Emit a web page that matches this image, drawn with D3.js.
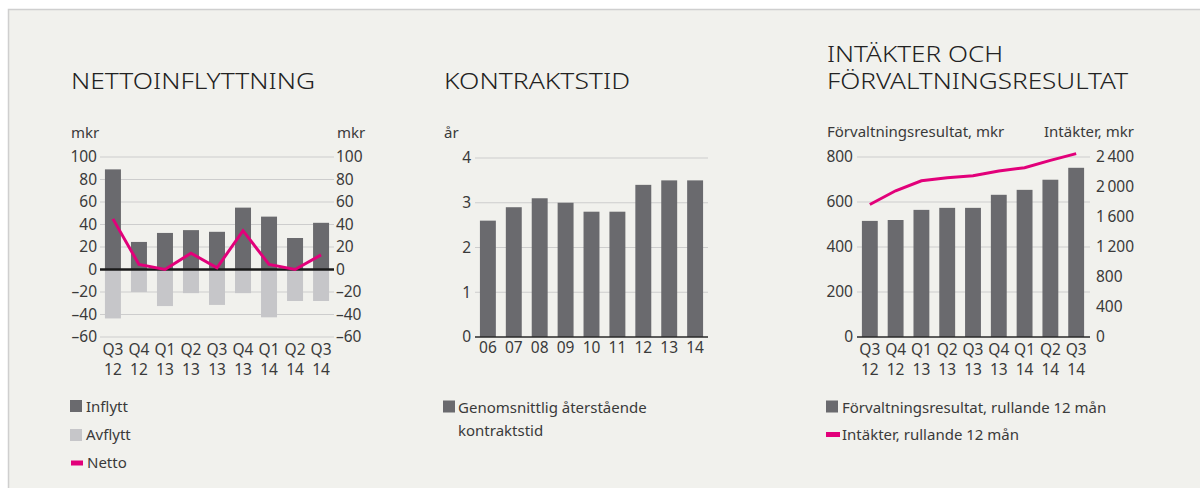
<!DOCTYPE html>
<html>
<head>
<meta charset="utf-8">
<script src="https://cdn.jsdelivr.net/npm/d3@7"></script>
<style>
  html, body { margin: 0; padding: 0; background: #ffffff; }
  svg { display: block; }
  text { font-family: "Noto Sans", sans-serif; fill: #3a3a3a; }
  .title { fill: #222222; font-size: 22.5px; font-weight: 300; }
  .tick text { font-size: 15.5px; fill: #3a3a3a; }
  .lbl { font-size: 15px; }
</style>
</head>
<body>
<div id="chart"></div>
<script>
// Data
const quarters = ["Q3 12", "Q4 12", "Q1 13", "Q2 13", "Q3 13", "Q4 13", "Q1 14", "Q2 14", "Q3 14"];
const inflytt = [89, 24.5, 32.5, 35, 33.5, 55, 47, 28, 41.5];
const avflytt = [-43.5, -20, -32.5, -21, -31.5, -21, -42.5, -28, -28];
const netto = [45, 4.5, 0, 14.5, 1.5, 34.5, 4.5, 0, 13];

const years = ["06", "07", "08", "09", "10", "11", "12", "13", "14"];
const kontraktstid = [2.6, 2.9, 3.1, 3.0, 2.8, 2.8, 3.4, 3.5, 3.5];

const forvaltningsresultat = [516, 520, 565, 574, 574, 632, 654, 699, 752];
const intakter = [1767, 1950, 2083, 2123, 2150, 2213, 2257, 2355, 2445];

const ticksNetto = [-60, -40, -20, 0, 20, 40, 60, 80, 100];
const ticksKontrakt = [0, 1, 2, 3, 4];
const ticksResultat = [0, 200, 400, 600, 800];
const ticksIntakter = [0, 400, 800, 1200, 1600, 2000, 2400];

const DARK = "#6a6a6e", LIGHT = "#c6c6c9", PINK = "#e2007a", GRID = "#cdcdcd";

const svg = d3.select("#chart").append("svg")
    .attr("width", 1200)
    .attr("height", 488);

// panel background
svg.append("rect")
    .attr("x", 8.5).attr("y", 9.5)
    .attr("width", 1200).attr("height", 490)
    .attr("fill", "#f1f1ed")
    .attr("stroke", "#cfcfcf")
    .attr("stroke-width", 1.5);

const fmtSpace = v => d3.format(",")(v).replace(/,/g, "\u2009");
const fmtMinus = v => v < 0 ? "\u2013" + Math.abs(v) : String(v);

function makeBand(domain, x0, x1) {
    return d3.scaleBand().domain(domain).range([x0, x1])
        .paddingInner(0.385).paddingOuter(0.19);
}

function grid(g, y, ticks, x0, x1) {
    g.append("g").selectAll("line")
        .data(ticks)
        .enter().append("line")
        .attr("x1", x0).attr("x2", x1)
        .attr("y1", d => y(d)).attr("y2", d => y(d))
        .attr("stroke", GRID)
        .attr("stroke-width", 1.2);
}

function yAxis(x, y, ticks, side, fmt, pad) {
    const ax = (side === "left" ? d3.axisLeft(y) : d3.axisRight(y))
        .tickValues(ticks).tickSize(0).tickPadding(pad).tickFormat(fmt);
    const g = svg.append("g").attr("transform", `translate(${x},0)`).call(ax);
    g.select(".domain").remove();
    g.selectAll(".tick text").attr("font-family", null).attr("font-size", null);
}

function xLabels(x, labels, y1, twoLines) {
    const g = svg.append("g");
    labels.forEach(l => {
        const parts = twoLines ? l.split(" ") : [l];
        parts.forEach((p, i) => {
            g.append("text")
                .attr("class", "lbl")
                .attr("x", x(l) + x.bandwidth() / 2)
                .attr("y", y1 + i * 20)
                .attr("text-anchor", "middle")
                .style("font-size", "15.5px")
                .text(p);
        });
    });
}

function title(lines, x, y0, widths) {
    lines.forEach((t, i) => {
        svg.append("text").attr("class", "title")
            .attr("x", x).attr("y", y0 + i * 27)
            .attr("textLength", widths[i])
            .attr("lengthAdjust", "spacingAndGlyphs")
            .text(t);
    });
}

// ---------------- Chart 1: Nettoinflyttning ----------------
{
    const x = makeBand(quarters, 100, 334);
    const y = d3.scaleLinear().domain([-60, 100]).range([337, 157]);
    title(["NETTOINFLYTTNING"], 71, 89, [244]);
    svg.append("text").attr("class", "lbl").attr("x", 71).attr("y", 138).text("mkr");
    svg.append("text").attr("class", "lbl").attr("x", 337).attr("y", 138).text("mkr");

    grid(svg, y, ticksNetto.filter(d => d !== 0), 100, 334);

    svg.append("g").selectAll("rect.in")
        .data(inflytt).enter().append("rect")
        .attr("x", (d, i) => x(quarters[i]))
        .attr("width", x.bandwidth())
        .attr("y", d => y(d))
        .attr("height", d => y(0) - y(d))
        .attr("fill", DARK);
    svg.append("g").selectAll("rect.av")
        .data(avflytt).enter().append("rect")
        .attr("x", (d, i) => x(quarters[i]))
        .attr("width", x.bandwidth())
        .attr("y", y(0))
        .attr("height", d => y(d) - y(0))
        .attr("fill", LIGHT);

    svg.append("line")
        .attr("x1", 100).attr("x2", 334)
        .attr("y1", y(0)).attr("y2", y(0))
        .attr("stroke", "#1a1a1a").attr("stroke-width", 2.5);

    const line = d3.line()
        .x((d, i) => x(quarters[i]) + x.bandwidth() / 2)
        .y(d => y(d));
    svg.append("path").datum(netto)
        .attr("d", line).attr("fill", "none")
        .attr("stroke", PINK).attr("stroke-width", 3)
        .attr("stroke-linejoin", "miter");

    yAxis(100, y, ticksNetto, "left", fmtMinus, 3);
    yAxis(334, y, ticksNetto, "right", fmtMinus, 2);
    xLabels(x, quarters, 355, true);

    // legend
    svg.append("rect").attr("x", 70).attr("y", 400).attr("width", 12).attr("height", 12).attr("fill", DARK);
    svg.append("text").attr("class", "lbl").attr("x", 86).attr("y", 412).text("Inflytt");
    svg.append("rect").attr("x", 70).attr("y", 429).attr("width", 12).attr("height", 12).attr("fill", LIGHT);
    svg.append("text").attr("class", "lbl").attr("x", 86).attr("y", 440).text("Avflytt");
    svg.append("rect").attr("x", 71).attr("y", 460.5).attr("width", 12).attr("height", 5).attr("fill", PINK);
    svg.append("text").attr("class", "lbl").attr("x", 87).attr("y", 468).text("Netto");
}

// ---------------- Chart 2: Kontraktstid ----------------
{
    const x = makeBand(years, 475, 708);
    const y = d3.scaleLinear().domain([0, 4]).range([337, 158]);
    title(["KONTRAKTSTID"], 444, 89, [186]);
    svg.append("text").attr("class", "lbl").attr("x", 444).attr("y", 138).text("år");

    grid(svg, y, ticksKontrakt.filter(d => d !== 0), 475, 708);

    svg.append("g").selectAll("rect")
        .data(kontraktstid).enter().append("rect")
        .attr("x", (d, i) => x(years[i]))
        .attr("width", x.bandwidth())
        .attr("y", d => y(d))
        .attr("height", d => y(0) - y(d))
        .attr("fill", DARK);

    svg.append("line")
        .attr("x1", 475).attr("x2", 708)
        .attr("y1", y(0)).attr("y2", y(0))
        .attr("stroke", "#2a2a2a").attr("stroke-width", 1.5);

    yAxis(475, y, ticksKontrakt, "left", d3.format("d"), 4);
    xLabels(x, years, 353, false);

    svg.append("rect").attr("x", 443).attr("y", 400.5).attr("width", 12).attr("height", 12).attr("fill", DARK);
    svg.append("text").attr("class", "lbl").attr("x", 458).attr("y", 412.5).text("Genomsnittlig återstående");
    svg.append("text").attr("class", "lbl").attr("x", 458).attr("y", 435.5).text("kontraktstid");
}

// ---------------- Chart 3: Intäkter och förvaltningsresultat ----------------
{
    const x = makeBand(quarters, 857, 1089);
    const yL = d3.scaleLinear().domain([0, 800]).range([337, 157]);
    const yR = d3.scaleLinear().domain([0, 2400]).range([337, 157]);
    title(["INTÄKTER OCH", "FÖRVALTNINGSRESULTAT"], 827, 62, [176, 301]);
    svg.append("text").attr("class", "lbl").attr("x", 827).attr("y", 137).text("Förvaltningsresultat, mkr");
    svg.append("text").attr("class", "lbl").attr("x", 1134).attr("y", 137)
        .attr("text-anchor", "end").text("Intäkter, mkr");

    grid(svg, yL, ticksResultat.filter(d => d !== 0), 857, 1090);

    svg.append("g").selectAll("rect")
        .data(forvaltningsresultat).enter().append("rect")
        .attr("x", (d, i) => x(quarters[i]))
        .attr("width", x.bandwidth())
        .attr("y", d => yL(d))
        .attr("height", d => yL(0) - yL(d))
        .attr("fill", DARK);

    svg.append("line")
        .attr("x1", 857).attr("x2", 1090)
        .attr("y1", yL(0)).attr("y2", yL(0))
        .attr("stroke", "#2a2a2a").attr("stroke-width", 1.5);

    const line = d3.line()
        .x((d, i) => x(quarters[i]) + x.bandwidth() / 2)
        .y(d => yR(d));
    svg.append("path").datum(intakter)
        .attr("d", line).attr("fill", "none")
        .attr("stroke", PINK).attr("stroke-width", 3);

    yAxis(857, yL, ticksResultat, "left", d3.format("d"), 4);
    yAxis(1090, yR, ticksIntakter, "right", fmtSpace, 6);
    xLabels(x, quarters, 355, true);

    svg.append("rect").attr("x", 826).attr("y", 400.5).attr("width", 12).attr("height", 12).attr("fill", DARK);
    svg.append("text").attr("class", "lbl").attr("x", 842).attr("y", 412.5).text("Förvaltningsresultat, rullande 12 mån");
    svg.append("rect").attr("x", 826).attr("y", 432).attr("width", 14).attr("height", 5).attr("fill", PINK);
    svg.append("text").attr("class", "lbl").attr("x", 842).attr("y", 440).text("Intäkter, rullande 12 mån");
}
</script>
</body>
</html>
